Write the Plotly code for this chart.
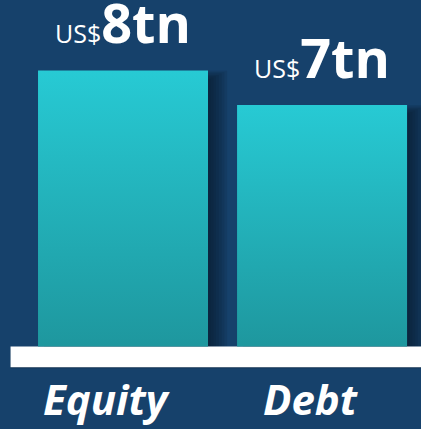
import plotly.graph_objects as go

categories = ["Equity", "Debt"]
values = [8, 7]
value_prefix = "US$"
value_suffix = "tn"

BG = "#16416b"
TOP = "#27cad4"
BOTTOM = "#1e979e"
HALF = 0.427

fig = go.Figure()

# drop shadows (to the right of each bar)
for i, v in enumerate(values):
    for k in range(7):
        off = 0.012 + k * 0.014
        fig.add_shape(type="rect", xref="x", yref="y", layer="below",
                      x0=i - HALF + 0.03, x1=i + HALF + off,
                      y0=0, y1=v - 0.25 + k * 0.04,
                      fillcolor="rgba(5,20,40,0.13)", line_width=0)

# white baseline
fig.add_shape(type="rect", xref="x", yref="y", layer="below",
              x0=-0.565, x1=1.6, y0=-0.07, y1=-0.63,
              fillcolor="rgba(0,0,0,0.25)", line_width=0)
fig.add_shape(type="rect", xref="x", yref="y", layer="below",
              x0=-0.565, x1=1.6, y0=0.0, y1=-0.6,
              fillcolor="white", line_width=0)

label_shift = [-17, -11]
for i, v in enumerate(values):
    xs = [i - HALF, i + HALF, i + HALF, i - HALF, i - HALF]
    ys = [0, 0, v, v, 0]
    fig.add_trace(go.Scatter(
        x=xs, y=ys, mode="lines", fill="toself",
        line=dict(width=0, color=TOP),
        fillcolor=TOP,
        fillgradient=dict(type="vertical",
                          colorscale=[[0, BOTTOM], [1, TOP]]),
        hoverinfo="skip", showlegend=False))
    fig.add_annotation(
        x=i, y=v, xref="x", yref="y", yanchor="bottom", yshift=9,
        showarrow=False,
        text=f"<span style='font-size:25px;font-weight:normal'>{value_prefix}</span><b>{v}{value_suffix}</b>",
        font=dict(family="Open Sans", size=54, color="white"))
    fig.add_annotation(
        x=i, y=-1.5, xref="x", yref="y", xshift=label_shift[i],
        showarrow=False,
        text=f"<b><i>{categories[i]}</i></b>",
        font=dict(family="Open Sans", size=42, color="white"))

fig.update_layout(
    width=421, height=429,
    margin=dict(l=0, r=0, t=0, b=0),
    paper_bgcolor=BG, plot_bgcolor=BG,
    xaxis=dict(range=[-0.618, 1.497], visible=False, fixedrange=True),
    yaxis=dict(range=[-2.39, 10.04], visible=False, fixedrange=True),
    showlegend=False,
)

fig.write_html("out.html", config={"displayModeBar": False},
               post_script="document.body.style.margin='0';document.body.style.overflow='hidden';")
